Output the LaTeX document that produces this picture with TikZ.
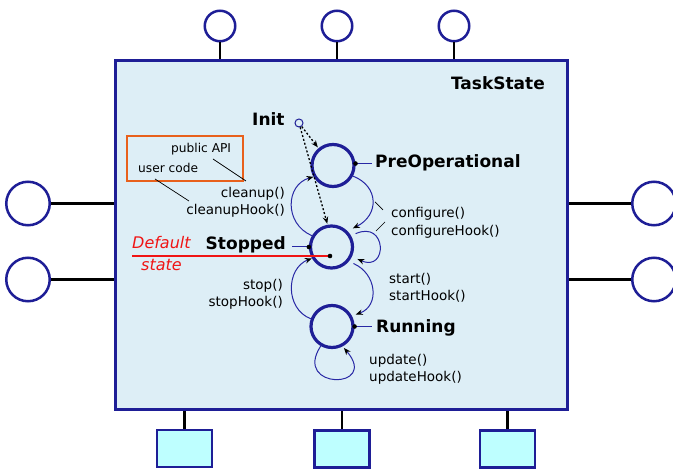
\documentclass[tikz,border=0pt]{standalone}
\usepackage{fontspec}
\setmainfont{DejaVu Sans}
\usetikzlibrary{arrows.meta,calc}
\definecolor{navy}{RGB}{30,30,150}
\definecolor{thinblue}{RGB}{40,40,165}
\definecolor{boxfill}{RGB}{221,238,246}
\definecolor{portfill}{RGB}{190,255,255}
\definecolor{apiorange}{RGB}{232,96,28}
\definecolor{defred}{RGB}{240,20,20}
\begin{document}
\begin{tikzpicture}[x=1pt,y=-1pt,
  mainbox/.style={rectangle,draw=navy,fill=boxfill,line width=3pt,inner sep=0,minimum width=452pt,minimum height=349pt},
  topport/.style={circle,draw=navy,fill=white,line width=2.5pt,inner sep=0,minimum size=30.5pt},
  sideport/.style={circle,draw=navy,fill=white,line width=2.5pt,inner sep=0,minimum size=43.5pt},
  botport/.style={rectangle,draw=navy,fill=portfill,line width=2.5pt,inner sep=0,minimum width=55pt,minimum height=37pt},
  portline/.style={line width=2.8pt,black},
  state/.style={circle,draw=navy,line width=3.2pt,inner sep=0,minimum size=42pt},
  txt/.style={inner sep=0,font=\fontsize{13.5pt}{16pt}\selectfont},
  bold/.style={inner sep=0,font=\fontsize{17pt}{20pt}\selectfont\bfseries},
  small/.style={inner sep=0,font=\fontsize{12.2pt}{14pt}\selectfont},
  deflbl/.style={inner sep=0,text=defred,font=\fontsize{16pt}{19pt}\selectfont\itshape},
  trans/.style={thinblue,line width=1pt,-{Stealth[length=7pt,width=5.5pt,color=black]}},
  initarrow/.style={black,line width=1.3pt,dash pattern=on 2pt off 2pt,-{Stealth[length=7pt,width=5.5pt,color=black]}},
  lead/.style={thinblue,line width=1pt},
  note/.style={black,line width=0.7pt},
]
\useasboundingbox (0,0) rectangle (673,470);

% main component box
\node[mainbox] (task) at (341,235.5) {};
\node[bold,anchor=base east] (tasklbl) at (545,90) {TaskState};

% ports
\node[topport] (t1) at (220,26) {};
\node[topport] (t2) at (337,26) {};
\node[topport] (t3) at (454,26) {};
\draw[portline] (t1.south) -- (t1 |- task.north);
\draw[portline] (t2.south) -- (t2 |- task.north);
\draw[portline] (t3.south) -- (t3 |- task.north);

\node[sideport] (l1) at (28,203.5) {};
\node[sideport] (l2) at (28,279.5) {};
\node[sideport] (r1) at (654,203.5) {};
\node[sideport] (r2) at (654,279.5) {};
\draw[portline] (l1.east) -- (l1 -| task.west);
\draw[portline] (l2.east) -- (l2 -| task.west);
\draw[portline] (r1.west) -- (r1 -| task.east);
\draw[portline] (r2.west) -- (r2 -| task.east);

\node[botport] (b1) at (184.5,448.5) {};
\node[botport] (b2) at (342,449) {};
\node[botport] (b3) at (507.5,449) {};
\draw[portline] (b1.north) -- (b1 |- task.south);
\draw[portline] (b2.north) -- (b2 |- task.south);
\draw[portline] (b3.north) -- (b3 |- task.south);

% states
\node[circle,draw=navy,line width=1pt,inner sep=0,minimum size=8pt] (init) at (299,123) {};
\node[state] (pre) at (333,165.5) {};
\node[state] (stop) at (331.5,247) {};
\node[state] (run) at (332,326.5) {};

\node[bold,anchor=base west] (initlbl) at (252,126) {Init};
\node[bold,anchor=base west] (prelbl) at (375,168) {PreOperational};
\node[bold,anchor=base east] (stoplbl) at (286,250) {Stopped};
\node[bold,anchor=base west] (runlbl) at (376,333) {Running};

% state label leads
\draw[lead] (pre.5) -- ++(16,0);
\fill (pre.5) circle (2.3);
\draw[lead] (stop.west) -- ++(-17,0);
\fill (stop.west) circle (2.3);
\draw[lead] (run.east) -- ++(17,0);
\fill (run.east) circle (2.3);

% default state
\node[deflbl,anchor=base west] (def1) at (132,249) {Default};
\node[deflbl,anchor=base west] (def2) at (141,271) {state};
\coordinate (defstart) at (132,256);
\coordinate (defdot) at (330,256);
\draw[defred,line width=1.8pt] (defstart) -- (defdot);
\fill (defdot) circle (2.3);

% init arrows
\draw[initarrow,shorten >=1pt] (init) -- (pre.130);
\draw[initarrow,shorten >=1pt] (init) -- (stop.100);

% transitions
\draw[trans] (stop.150) .. controls +(-28,-12) and +(-28,8) .. (pre.210);
\draw[trans,shorten >=6pt] (pre.-28) .. controls +(26,10) and +(32,-16) .. (stop.45);
\draw[trans,shorten <=5pt,shorten >=6pt] (stop.30) .. controls +(36,-16) and +(36,16) .. (stop.-25);
\draw[trans,shorten <=5pt,shorten >=4pt] (stop.-40) .. controls +(28,12) and +(28,-10) .. (run.28);
\draw[trans] (run.160) .. controls +(-26,-10) and +(-26,10) .. (stop.210);
\draw[trans,shorten >=2pt] (run.-120) .. controls (292,390) and (380,390) .. (run.-62);

% transition labels
\node[txt,anchor=base east] (cl1) at (285,198) {cleanup()};
\node[txt,anchor=base east] (cl2) at (285,215) {cleanupHook()};
\node[txt,anchor=base west] (cf1) at (391,218) {configure()};
\node[txt,anchor=base west] (cf2) at (391,236) {configureHook()};
\node[txt,anchor=base west] (st1) at (389,284) {start()};
\node[txt,anchor=base west] (st2) at (389,301) {startHook()};
\node[txt,anchor=base east] (sp1) at (283,290) {stop()};
\node[txt,anchor=base east] (sp2) at (283,307) {stopHook()};
\node[txt,anchor=base west] (up1) at (369,365) {update()};
\node[txt,anchor=base west] (up2) at (369,382) {updateHook()};

% configure annotation ticks
\coordinate (c1a) at (375,202);
\coordinate (c1b) at (383,210);
\coordinate (c2a) at (376,231);
\coordinate (c2b) at (385,222);
\draw[note] (c1a) -- (c1b);
\draw[note] (c2a) -- (c2b);

% API legend
\node[rectangle,draw=apiorange,line width=1.8pt,inner sep=0,minimum width=116pt,minimum height=45pt] (api) at (185,158.5) {};
\node[small,anchor=base west] (publbl) at (171,153) {public API};
\node[small,anchor=base west] (userlbl) at (138,173) {user code};
\coordinate (p1) at (213,159);
\coordinate (p2) at (246,181);
\coordinate (u1) at (155,179);
\coordinate (u2) at (189,201);
\draw[note] (p1) -- (p2);
\draw[note] (u1) -- (u2);
\end{tikzpicture}
\end{document}
